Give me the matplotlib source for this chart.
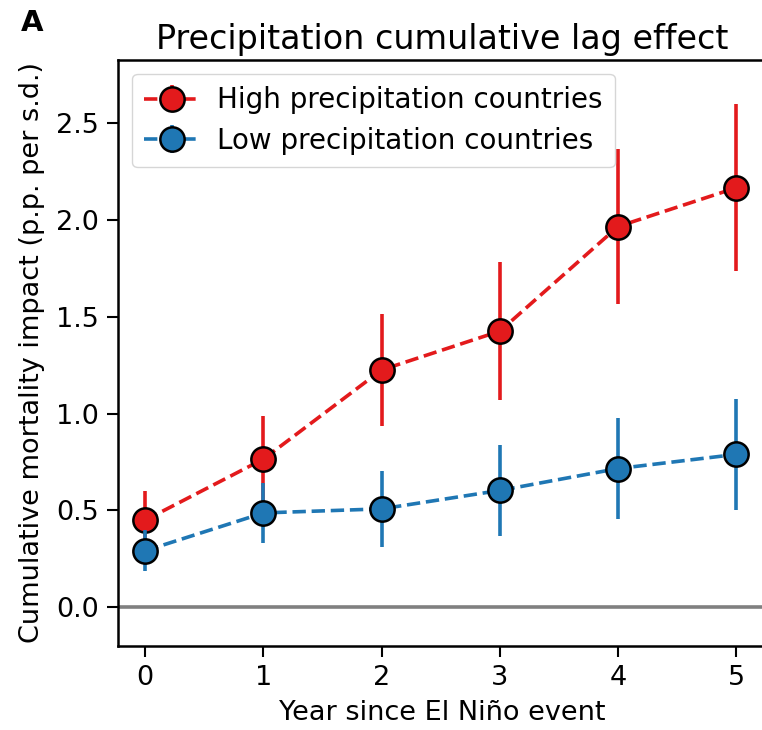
import matplotlib
matplotlib.use("Agg")
import matplotlib.pyplot as plt

years = [0, 1, 2, 3, 4, 5]

high_mean = [0.45, 0.765, 1.225, 1.425, 1.965, 2.165]
high_err = [0.15, 0.22, 0.29, 0.355, 0.40, 0.43]

low_mean = [0.292, 0.487, 0.508, 0.603, 0.716, 0.789]
low_err = [0.105, 0.155, 0.195, 0.235, 0.26, 0.285]

red = "#e31a1c"
blue = "#1f77b4"

plt.rcParams["font.family"] = ["DejaVu Sans"]

fig = plt.figure(figsize=(7.62, 7.30), dpi=100)
ax = fig.add_axes([0.155, 0.115, 0.85, 0.803])

ax.axhline(0, color="grey", lw=2.6, zorder=1)

ax.errorbar(years, high_mean, yerr=high_err, fmt="o--", color=red, ecolor=red,
            elinewidth=2.6, lw=2.6, ms=17.5, mfc=red, mec="black", mew=1.8,
            label="High precipitation countries", zorder=3)
ax.errorbar(years, low_mean, yerr=low_err, fmt="o--", color=blue, ecolor=blue,
            elinewidth=2.6, lw=2.6, ms=17.5, mfc=blue, mec="black", mew=1.8,
            label="Low precipitation countries", zorder=4)

ax.set_xlim(-0.23, 5.25)
ax.set_ylim(-0.2, 2.825)
ax.set_xticks(years)
ax.set_yticks([0.0, 0.5, 1.0, 1.5, 2.0, 2.5])
ax.tick_params(labelsize=19.5, width=1.5, length=8, pad=6)
for s in ax.spines.values():
    s.set_linewidth(1.8)

ax.set_xlabel("Year since El Niño event", fontsize=19.5, labelpad=6)
ax.set_ylabel("Cumulative mortality impact (p.p. per s.d.)", fontsize=19.5, labelpad=8)
ax.set_title("Precipitation cumulative lag effect", fontsize=24, pad=8)

ax.legend(loc="upper left", fontsize=20, handlelength=2.0, borderpad=0.45,
          handletextpad=0.6, labelspacing=0.45)

fig.text(0.028, 0.958, "A", fontsize=21, fontweight="bold")

fig.savefig("out.png", dpi=100)
